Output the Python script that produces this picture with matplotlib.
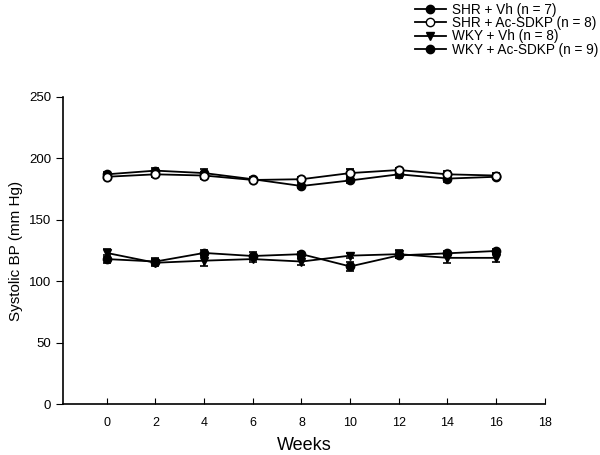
import matplotlib
matplotlib.use("Agg")
import matplotlib.pyplot as plt
import numpy as np
from matplotlib.lines import Line2D

plt.rcParams['font.family'] = ['Liberation Sans', 'DejaVu Sans']

weeks = [0, 2, 4, 6, 8, 10, 12, 14, 16]

shr_vh = [187, 190, 188, 183, 177.5, 182, 187, 183.5, 185]
shr_vh_err = [2, 2, 3, 2, 2, 2, 3, 3, 2]

shr_ac = [185, 187, 186, 182.4, 183, 188, 190.5, 187, 186]
shr_ac_err = [2, 2, 3, 2, 2, 3, 2, 3, 2]

wky_vh = [123, 115, 116.7, 118, 116, 120.8, 122, 119, 119]
wky_vh_err = [3, 3, 4, 2, 3, 2, 3, 4, 3]

wky_ac = [118, 116, 123, 120.5, 122, 112, 121, 122.7, 124.6]
wky_ac_err = [3, 3, 2, 3, 2, 4, 2, 2, 2]

labels = ["SHR + Vh (n = 7)", "SHR + Ac-SDKP (n = 8)",
          "WKY + Vh (n = 8)", "WKY + Ac-SDKP (n = 9)"]

fig = plt.figure(figsize=(6, 4.55), dpi=100)
ax = fig.add_axes([0.105, 0.112, 0.803, 0.675])

kw = dict(color='black', lw=1.3, ms=6, capsize=3, elinewidth=1.2, capthick=1.2)
ax.errorbar(weeks, shr_vh, yerr=shr_vh_err, marker='o', mfc='black', mec='black', **kw)
ax.errorbar(weeks, wky_ac, yerr=wky_ac_err, marker='o', mfc='black', mec='black', **kw)
ax.errorbar(weeks, wky_vh, yerr=wky_vh_err, marker='v', mfc='black', mec='black', **kw)
ax.errorbar(weeks, shr_ac, yerr=shr_ac_err, marker='o', mfc='white', mec='black', mew=1.3, **kw)

ax.set_xlim(-1.8, 18)
ax.set_ylim(0, 250)
ax.set_xticks([0, 2, 4, 6, 8, 10, 12, 14, 16, 18])
ax.set_yticks([0, 50, 100, 150, 200, 250])
ax.spines['top'].set_visible(False)
ax.spines['right'].set_visible(False)
ax.spines['left'].set_linewidth(1.2)
ax.spines['bottom'].set_linewidth(1.2)
ax.tick_params(axis='x', direction='in', length=4, labelsize=9, pad=9)
ax.tick_params(axis='y', direction='out', length=5, labelsize=9.5)
ax.set_ylabel("Systolic BP (mm Hg)", fontsize=11)
ax.set_xlabel("Weeks", fontsize=13, labelpad=6)

handles = [
    Line2D([], [], color='black', lw=1.3, marker='o', ms=6, mfc='black'),
    Line2D([], [], color='black', lw=1.3, marker='o', ms=6, mfc='white'),
    Line2D([], [], color='black', lw=1.3, marker='v', ms=6, mfc='black'),
    Line2D([], [], color='black', lw=1.3, marker='o', ms=6, mfc='black'),
]
fig.legend(handles, labels, loc='upper right', bbox_to_anchor=(1.0, 0.997),
           frameon=False, fontsize=9.8, handlelength=2.3, handletextpad=0.45,
           labelspacing=-0.05, borderpad=0.1, borderaxespad=0.0)

fig.savefig("out.png", dpi=100)
